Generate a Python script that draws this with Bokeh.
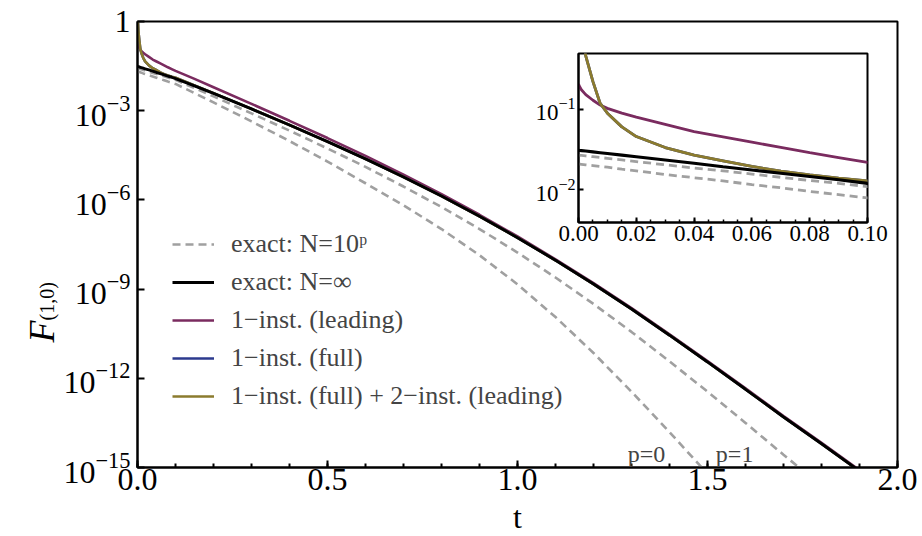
import numpy as np
from bokeh.plotting import figure
from bokeh.models import (Range1d, SingleIntervalTicker, FixedTicker, PrintfTickFormatter,
                          LogTickFormatter, Legend, LegendItem, Label)
from bokeh.core.properties import value
from bokeh.embed import file_html
from bokeh.resources import INLINE

nan = float("nan")

# time grid (t)
t = [0.0, 0.0005, 0.001, 0.0025, 0.005, 0.0075, 0.01, 0.015, 0.02, 0.03, 0.04, 0.05,
     0.06, 0.07, 0.08, 0.09, 0.1, 0.15, 0.2, 0.3, 0.4, 0.5, 0.6, 0.7, 0.8, 0.9, 1.0,
     1.1, 1.2, 1.3, 1.4, 1.5, 1.6, 1.7, 1.8, 1.9]

# -log10 F(1,0)
d_exact_p0 = [1.68, 1.682, 1.684, 1.69, 1.70, 1.71, 1.72, 1.745, 1.765, 1.81, 1.85, 1.89,
              1.935, 1.975, 2.02, 2.06, 2.10, 2.41, 2.72, 3.36, 4.02, 4.71, 5.44, 6.18, 6.98,
              7.86, 8.84, 9.94, 11.15, 12.45, 13.81, 15.21, 16.65, 18.1, 19.6, 21.1]
d_exact_p1 = [1.57, 1.572, 1.574, 1.58, 1.59, 1.60, 1.61, 1.63, 1.65, 1.69, 1.73, 1.765,
              1.805, 1.845, 1.885, 1.92, 1.96, 2.24, 2.52, 3.09, 3.67, 4.27, 4.89, 5.55, 6.24,
              6.98, 7.77, 8.61, 9.50, 10.44, 11.43, 12.45, 13.50, 14.57, 15.62, 16.70]
d_exact_inf = [1.51, 1.512, 1.514, 1.52, 1.53, 1.54, 1.55, 1.57, 1.59, 1.63, 1.67, 1.715,
               1.755, 1.795, 1.835, 1.875, 1.92, 2.165, 2.42, 2.94, 3.48, 4.04, 4.62, 5.23, 5.87,
               6.55, 7.27, 8.03, 8.83, 9.67, 10.55, 11.45, 12.37, 13.30, 14.20, 15.12]
d_inst1_lead = [0.69, 0.73, 0.76, 0.82, 0.89, 0.95, 0.99, 1.05, 1.10, 1.19, 1.28, 1.345,
                1.41, 1.475, 1.54, 1.60, 1.66, 1.93, 2.21, 2.77, 3.34, 3.92, 4.52, 5.15, 5.81,
                6.50, 7.23, 8.00, 8.80, 9.64, 10.52, 11.42, 12.34, 13.27, 14.17, 15.09]
d_inst1_full = [nan, -0.40, -0.05, 0.34, 0.66, 0.93, 1.05, 1.22, 1.34, 1.476, 1.57, 1.64,
                1.71, 1.77, 1.815, 1.855, 1.89, 2.15, 2.41, 2.94, 3.48, 4.04, 4.62, 5.23, 5.87,
                6.55, 7.27, 8.03, 8.83, 9.67, 10.55, 11.45, 12.37, 13.30, 14.20, 15.12]
d_inst12 = [nan, -0.40, -0.05, 0.34, 0.66, 0.93, 1.05, 1.22, 1.34, 1.476, 1.57, 1.64,
            1.71, 1.77, 1.815, 1.855, 1.89, 2.15, 2.41, 2.94, 3.48, 4.04, 4.62, 5.23, 5.87,
            6.55, 7.27, 8.03, 8.83, 9.67, 10.55, 11.45, 12.37, 13.30, 14.20, 15.12]

legend_labels = ["exact: N=10\u1d56", "exact: N=\u221e", "1\u2212inst. (leading)",
                 "1\u2212inst. (full)", "1\u2212inst. (full) + 2\u2212inst. (leading)"]
y_ticks = [1e-15, 1e-12, 1e-9, 1e-6, 1e-3, 1.0]
inset_y_ticks = [0.01, 0.1]

def F(d):
    return 10.0 ** (-np.array(d, dtype=float))

GRAY = "#a0a0a0"
PURPLE = "#7a2b5f"
BLUE = "#2c3a8e"
OLIVE = "#8b7b2e"
FONT = "Liberation Serif"

# ---------------- main plot ----------------
p = figure(width=920, height=534, y_axis_type="log", output_backend="svg",
           toolbar_location=None, x_range=Range1d(0, 2), y_range=Range1d(1e-15, 1.0),
           min_border_left=137, min_border_right=23, min_border_top=21, min_border_bottom=67)
p.xgrid.visible = False
p.ygrid.visible = False
p.outline_line_color = "black"
p.outline_line_width = 2
p.background_fill_color = "white"
p.border_fill_color = "white"

def draw_lines(fig, lw):
    r0 = fig.line(t, F(d_exact_p0), line_color=GRAY, line_width=lw, line_dash="8 5")
    r1 = fig.line(t, F(d_exact_p1), line_color=GRAY, line_width=lw, line_dash="8 5")
    rp = fig.line(t, F(d_inst1_lead), line_color=PURPLE, line_width=lw)
    rb = fig.line(t, F(d_inst1_full), line_color=BLUE, line_width=lw)
    ro = fig.line(t, F(d_inst12), line_color=OLIVE, line_width=lw)
    rk = fig.line(t, F(d_exact_inf), line_color="black", line_width=lw + 0.3)
    return r0, r1, rp, rb, ro, rk

r0, r1, rp, rb, ro, rk = draw_lines(p, 2.6)

for ax in (p.xaxis[0], p.yaxis[0]):
    ax.axis_line_color = "black"
    ax.axis_line_width = 2
    ax.major_tick_in = 7
    ax.major_tick_out = 0
    ax.minor_tick_in = 4
    ax.minor_tick_out = 0
    ax.major_tick_line_width = 2
    ax.minor_tick_line_width = 2
    ax.major_label_text_font = FONT
    ax.major_label_text_font_size = "32px"
    ax.major_label_text_color = "black"

p.xaxis.ticker = SingleIntervalTicker(interval=0.5, num_minor_ticks=5)
p.xaxis.formatter = PrintfTickFormatter(format="%.1f")
p.xaxis.major_label_standoff = 1
p.yaxis.ticker = FixedTicker(ticks=y_ticks, minor_ticks=[])
p.yaxis.formatter = LogTickFormatter()
p.yaxis.major_label_overrides = {1: "1"}
p.yaxis.major_label_standoff = 7

legend = Legend(items=[LegendItem(label=legend_labels[0], renderers=[r0]),
                       LegendItem(label=legend_labels[1], renderers=[rk]),
                       LegendItem(label=legend_labels[2], renderers=[rp]),
                       LegendItem(label=legend_labels[3], renderers=[rb]),
                       LegendItem(label=legend_labels[4], renderers=[ro])],
                location=(35, 56), padding=0, margin=0, spacing=8,
                glyph_width=42, glyph_height=30, label_height=30, label_standoff=17,
                label_text_font=FONT, label_text_font_size="26px",
                border_line_color=None, background_fill_alpha=0)
p.add_layout(legend)

p.add_layout(Label(x=1.29, y=10 ** -14.55, text="p=0", text_font=FONT,
                   text_font_size="24px", text_baseline="alphabetic"))
p.add_layout(Label(x=1.522, y=10 ** -14.55, text="p=1", text_font=FONT,
                   text_font_size="24px", text_baseline="alphabetic"))

# ---------------- inset ----------------
ins = figure(width=360, height=209, y_axis_type="log", output_backend="svg",
             toolbar_location=None, x_range=Range1d(0, 0.1),
             y_range=Range1d(10 ** -2.405, 10 ** -0.311),
             min_border_left=45, min_border_right=25, min_border_top=5, min_border_bottom=35)
ins.xgrid.visible = False
ins.ygrid.visible = False
ins.outline_line_color = "black"
ins.outline_line_width = 2
ins.background_fill_color = "white"
ins.border_fill_color = None
draw_lines(ins, 2.8)
for ax in (ins.xaxis[0], ins.yaxis[0]):
    ax.axis_line_color = "black"
    ax.axis_line_width = 2
    ax.major_tick_in = 5
    ax.major_tick_out = 0
    ax.minor_tick_in = 3
    ax.minor_tick_out = 0
    ax.major_tick_line_width = 2
    ax.minor_tick_line_width = 1.5
    ax.major_label_text_font = FONT
    ax.major_label_text_font_size = "23px"
    ax.major_label_text_color = "black"
    ax.major_label_standoff = 3
ins.xaxis.ticker = SingleIntervalTicker(interval=0.02, num_minor_ticks=4)
ins.xaxis.formatter = PrintfTickFormatter(format="%.2f")
ins.yaxis.ticker = FixedTicker(ticks=inset_y_ticks, minor_ticks=[])
ins.yaxis.formatter = LogTickFormatter()
ins.styles = {"position": "absolute", "left": "532px", "top": "48px"}

def text_box(w, h, left, top):
    f = figure(width=w, height=h, output_backend="svg", toolbar_location=None, title=None,
               x_range=Range1d(0, w), y_range=Range1d(0, h), min_border=0)
    f.axis.visible = False
    f.grid.visible = False
    f.outline_line_color = None
    f.background_fill_color = None
    f.border_fill_color = None
    f.styles = {"position": "absolute", "left": f"{left}px", "top": f"{top}px"}
    return f

# ---------------- y-axis title F_(1,0) ----------------
ylab = text_box(70, 130, 0, 240)
ylab.text(x=[41], y=[28], text=["F"], angle=np.pi / 2, text_font=value(FONT),
          text_font_style="italic", text_font_size="36px", text_align="left",
          text_baseline="alphabetic", text_color="black")
ylab.text(x=[46], y=[50], text=["(1,0)"], angle=np.pi / 2, text_font=value(FONT),
          text_font_size="20px", text_align="left", text_baseline="alphabetic",
          text_color="black")

# ---------------- x-axis title t ----------------
xlab = text_box(80, 100, 477, 434)
xlab.text(x=[40], y=[18], text=["t"], text_font=value(FONT), text_font_size="32px",
          text_align="center", text_baseline="alphabetic", text_color="black")

open("out.html", "w").write(file_html([p, ins, ylab, xlab], INLINE))
